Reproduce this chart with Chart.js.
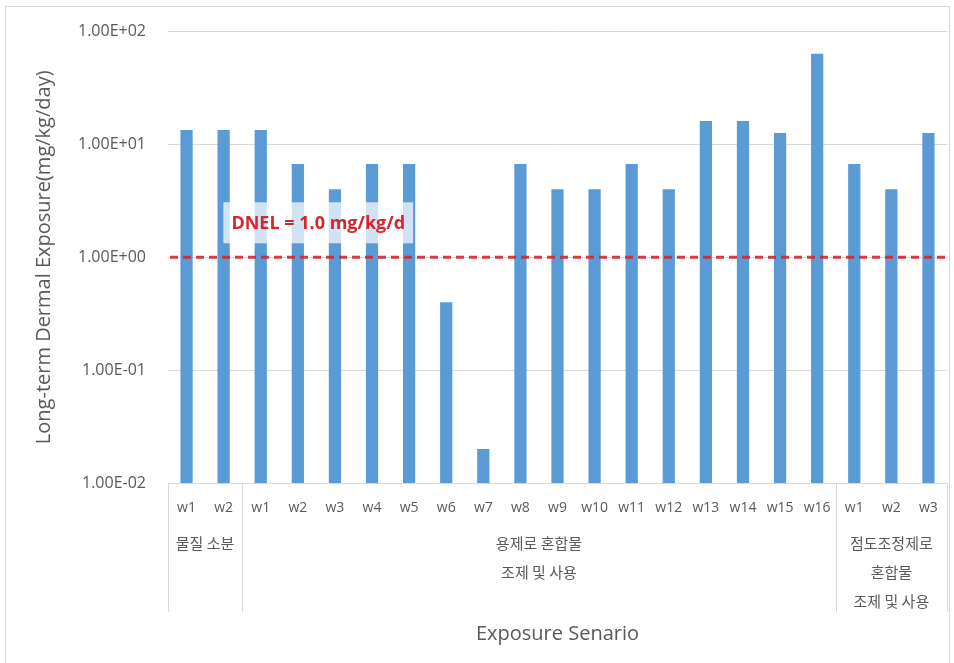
<!DOCTYPE html>
<html>
<head>
<meta charset="utf-8">
<script src="https://cdn.jsdelivr.net/npm/chart.js@4/dist/chart.umd.min.js"></script>
<style>
  html, body { margin: 0; padding: 0; background: #ffffff; }
  #wrap { width: 954px; height: 663px; }
</style>
</head>
<body>
<div id="wrap"><canvas id="chart" width="954" height="663"></canvas></div>
<script>
// Work scenarios along the x axis
const categories = ['w1', 'w2', 'w1', 'w2', 'w3', 'w4', 'w5', 'w6', 'w7', 'w8', 'w9', 'w10',
                    'w11', 'w12', 'w13', 'w14', 'w15', 'w16', 'w1', 'w2', 'w3'];
// Long-term dermal exposure, mg/kg/day
const exposure = [13.4, 13.4, 13.4, 6.7, 4.0, 6.7, 6.7, 0.4, 0.02, 6.7, 4.0, 4.0,
                  6.7, 4.0, 16.1, 16.1, 12.6, 63.8, 6.7, 4.0, 12.6];
// Scenario groups (multi-line names) and how many categories each spans
const groupNames = [['물질 소분'], ['용제로 혼합물', '조제 및 사용'], ['점도조정제로', '혼합물', '조제 및 사용']];
const groupSizes = [2, 16, 3];
// Log-axis ticks and the DNEL reference level
const yTicks = [0.01, 0.1, 1, 10, 100];
const dnel = 1.0;
const dnelLabel = 'DNEL = 1.0 mg/kg/d';

const FONT = "'Open Sans', 'Noto Sans CJK KR', sans-serif";
const KFONT = "'Noto Sans CJK KR', sans-serif";
const TEXT = '#595959';

function sci(v) {
  const e = Math.round(Math.log10(v));
  const m = v / Math.pow(10, e);
  const sign = e < 0 ? '-' : '+';
  return m.toFixed(2) + 'E' + sign + String(Math.abs(e)).padStart(2, '0');
}

const overlay = {
  id: 'overlay',
  beforeDraw(chart) {
    const ctx = chart.ctx;
    ctx.save();
    ctx.fillStyle = '#ffffff';
    ctx.fillRect(0, 0, chart.width, chart.height);
    ctx.strokeStyle = '#d9d9d9';
    ctx.lineWidth = 1;
    ctx.strokeRect(5.5, 6.5, 944, 660);
    ctx.restore();
  },
  afterDatasetsDraw(chart) {
    const ctx = chart.ctx;
    const x = chart.scales.x, y = chart.scales.y;
    const area = chart.chartArea;
    const step = (x.getPixelForValue(1) - x.getPixelForValue(0));

    // DNEL label with translucent backing
    ctx.save();
    const yd = y.getPixelForValue(dnel);
    ctx.font = "bold 18px " + FONT;
    const tw = ctx.measureText(dnelLabel).width;
    const cx = x.getPixelForValue(2) + step * 1.55;
    const ly = yd - 33;
    ctx.fillStyle = 'rgba(255,255,255,0.72)';
    ctx.fillRect(cx - tw / 2 - 8, ly - 22, tw + 16, 41);
    ctx.fillStyle = '#d4262c';
    ctx.textAlign = 'center';
    ctx.textBaseline = 'middle';
    ctx.fillText(dnelLabel, cx, ly);

    // DNEL dashed line
    ctx.strokeStyle = 'rgba(212,38,44,0.9)';
    ctx.lineWidth = 3;
    ctx.setLineDash([8, 5]);
    ctx.beginPath();
    ctx.moveTo(area.left + 2, yd);
    ctx.lineTo(area.right - 2, yd);
    ctx.stroke();
    ctx.restore();

    // Group separators and group names below the tick labels
    ctx.save();
    ctx.strokeStyle = '#d9d9d9';
    ctx.lineWidth = 1;
    let start = 0;
    const edges = [];
    groupSizes.forEach(n => { edges.push(start); start += n; });
    edges.push(start);
    edges.forEach(i => {
      const px = Math.round(x.getPixelForValue(i) - step / 2) + 0.5;
      ctx.beginPath();
      ctx.moveTo(px, area.bottom);
      ctx.lineTo(px, area.bottom + 129);
      ctx.stroke();
    });
    ctx.fillStyle = TEXT;
    ctx.font = "15px " + KFONT;
    ctx.textAlign = 'center';
    ctx.textBaseline = 'middle';
    groupNames.forEach((lines, g) => {
      const a = x.getPixelForValue(edges[g]) - step / 2;
      const b = x.getPixelForValue(edges[g + 1]) - step / 2;
      lines.forEach((t, k) => ctx.fillText(t, (a + b) / 2, area.bottom + 60 + k * 29));
    });
    ctx.restore();
  }
};

new Chart(document.getElementById('chart'), {
  type: 'bar',
  data: {
    labels: categories,
    datasets: [{
      data: exposure,
      backgroundColor: '#5b9bd5',
      borderWidth: 0,
      barPercentage: 0.33,
      categoryPercentage: 1.0
    }]
  },
  options: {
    responsive: false,
    devicePixelRatio: 1,
    animation: false,
    layout: { padding: { left: 0, right: 7, top: 27, bottom: 0 } },
    plugins: { legend: { display: false }, tooltip: { enabled: false } },
    scales: {
      x: {
        grid: { display: false },
        border: { display: false },
        ticks: { color: TEXT, font: { family: FONT, size: 14 }, padding: 9, maxRotation: 0, autoSkip: false },
        title: { display: true, text: 'Exposure Senario', color: TEXT,
                 font: { family: FONT, size: 20 }, padding: { top: 0, bottom: 17 } },
        afterFit(scale) { scale.height = 180; }
      },
      y: {
        type: 'logarithmic',
        min: 0.01,
        max: 100,
        afterBuildTicks(scale) { scale.ticks = yTicks.map(v => ({ value: v })); },
        grid: { color: '#d9d9d9', drawTicks: false },
        border: { display: false },
        ticks: { color: TEXT, font: { family: FONT, size: 16 }, padding: 22, callback: v => sci(v) },
        title: { display: true, text: 'Long-term Dermal Exposure(mg/kg/day)', color: TEXT,
                 font: { family: FONT, size: 20 }, padding: { top: 32, bottom: 0 } },
        afterFit(scale) { scale.width = 168; }
      }
    }
  },
  plugins: [overlay]
});
</script>
</body>
</html>
